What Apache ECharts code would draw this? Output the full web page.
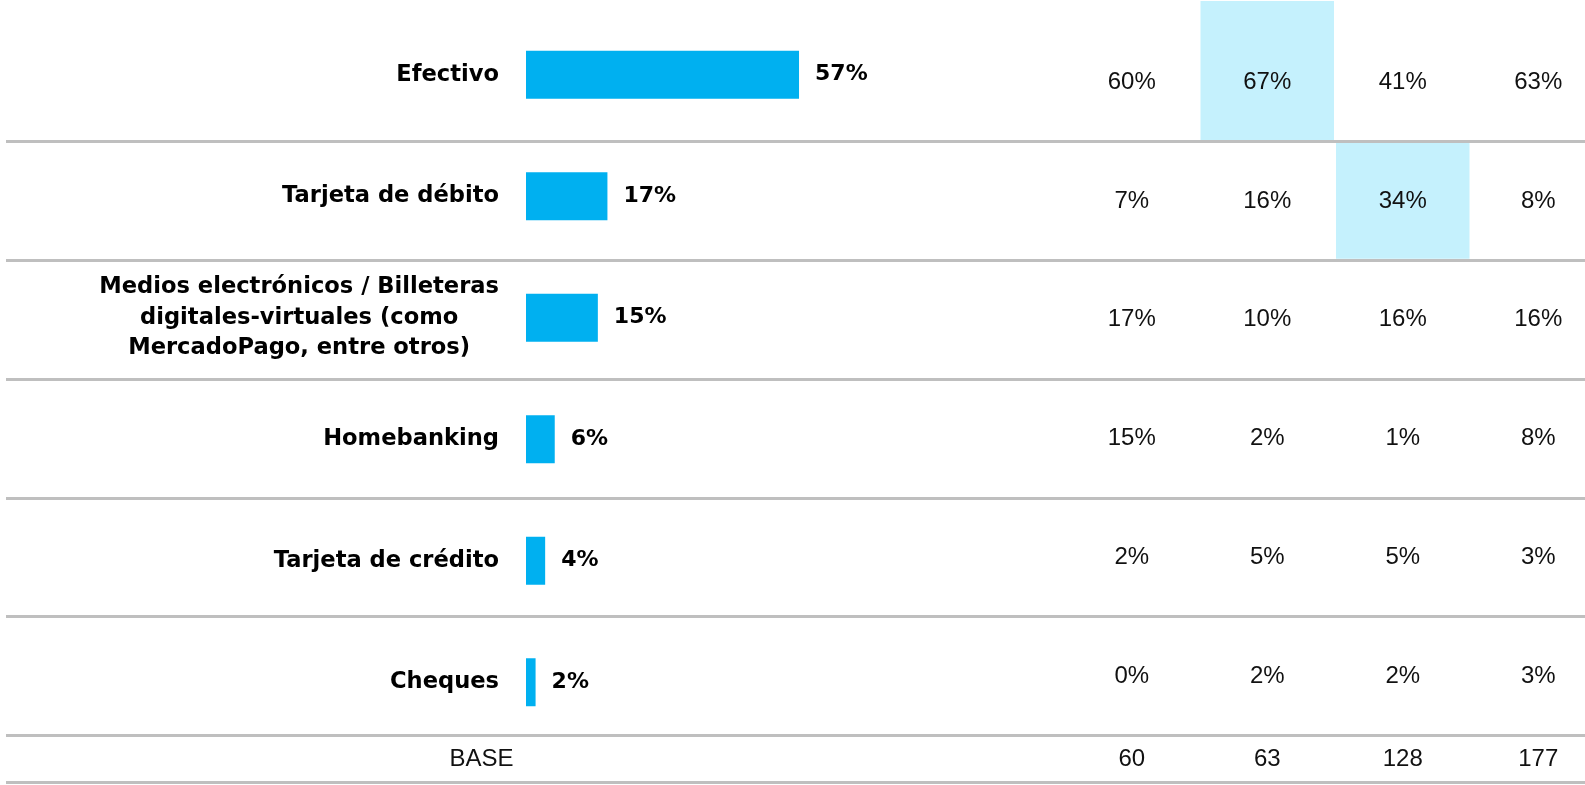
<!DOCTYPE html>
<html>
<head>
<meta charset="utf-8">
<script src="https://cdn.jsdelivr.net/npm/echarts@6/dist/echarts.min.js"></script>
<style>
  html, body { margin: 0; padding: 0; background: #ffffff; }
  #chart { width: 1585px; height: 785px; }
</style>
</head>
<body>
<div id="chart"></div>
<script>
// Payment methods and overall share (%)
const categories = [
  'Efectivo',
  'Tarjeta de débito',
  'Medios electrónicos / Billeteras\ndigitales-virtuales (como\nMercadoPago, entre otros)',
  'Homebanking',
  'Tarjeta de crédito',
  'Cheques'
];
const totalShare = [57, 17, 15, 6, 4, 2];

// Breakdown columns (%), one array per column
const column1 = [60, 7, 17, 15, 2, 0];
const column2 = [67, 16, 10, 2, 5, 2];
const column3 = [41, 34, 16, 1, 5, 2];
const column4 = [63, 8, 16, 8, 3, 3];

// Sample sizes per column
const baseLabel = 'BASE';
const baseCounts = [60, 63, 128, 177];

// Cells shaded as significantly higher: [column index, row index]
const highlightCells = [[1, 0], [2, 1]];

const LABEL_FONT = '"DejaVu Sans", sans-serif';
const TABLE_FONT = '"Liberation Sans", Arial, sans-serif';
const BAR_COLOR = '#00B0F0';
const SHADE_COLOR = '#C5F1FD';
const RULE_COLOR = '#BFBFBF';
const TEXT_COLOR = '#111111';

const columns = [column1, column2, column3, column4];
const tableCells = [];
columns.forEach((col, ci) => {
  col.forEach((v, ri) => {
    const hl = highlightCells.some(h => h[0] === ci && h[1] === ri) ? 1 : 0;
    tableCells.push([ci, ri, v, hl]);
  });
});
const baseCells = baseCounts.map((v, ci) => [ci, 0, v]);

// table geometry shared by the rule grid and the cell grid
const TABLE_TOP = 22.7;
const TABLE_H = 712.8;
const BASE_TOP = TABLE_TOP + TABLE_H;
const BASE_H = 47;
const TABLE_LEFT = 1064;
const COL_W = 135.5;
const TABLE_W = 1585 - TABLE_LEFT;
// column index range visible across the table grid (last column runs off the edge)
const COL_MIN = -0.5;
const COL_MAX = TABLE_W / COL_W - 0.5;

const chart = echarts.init(document.getElementById('chart'), null, { renderer: 'canvas' });

function cellRenderer(withPercent) {
  return function (params, api) {
    const col = api.value(0), row = api.value(1);
    const c = api.coord([col, row]);
    const s = api.size([1, 1]);
    const children = [];
    if (withPercent && api.value(3)) {
      // the top row's shading runs up to the page edge
      const top = row === 0 ? 1 : c[1] - s[1] / 2 + 1.5;
      const bottom = c[1] + s[1] / 2 - 1.5;
      children.push({
        type: 'rect',
        shape: { x: c[0] - s[0] / 2 + 1, y: top, width: s[0] - 2, height: bottom - top },
        style: { fill: SHADE_COLOR }
      });
    }
    children.push({
      type: 'text',
      x: c[0], y: c[1],
      style: {
        text: api.value(2) + (withPercent ? '%' : ''),
        fill: TEXT_COLOR,
        font: '24px ' + TABLE_FONT,
        align: 'center',
        verticalAlign: 'middle'
      }
    });
    return { type: 'group', children };
  };
}

const hiddenValueAxis = (gridIndex) => ({ type: 'value', gridIndex, show: false, min: 0, max: 1 });
const columnAxis = (gridIndex) => ({ type: 'value', gridIndex, show: false, min: COL_MIN, max: COL_MAX });

chart.setOption({
  animation: false,
  backgroundColor: '#ffffff',
  grid: [
    // bars
    { left: 526, width: 479, top: 14, height: 729 },
    // full-width row rules
    { left: 6, right: 0, top: TABLE_TOP, height: TABLE_H },
    // breakdown cells
    { left: TABLE_LEFT, width: TABLE_W, top: TABLE_TOP, height: TABLE_H },
    // base row rule
    { left: 6, right: 0, top: BASE_TOP, height: BASE_H },
    // base row cells
    { left: TABLE_LEFT, width: TABLE_W, top: BASE_TOP, height: BASE_H }
  ],
  xAxis: [
    { type: 'value', gridIndex: 0, min: 0, max: 100, show: false },
    hiddenValueAxis(1),
    columnAxis(2),
    hiddenValueAxis(3),
    columnAxis(4)
  ],
  yAxis: [
    {
      type: 'category', gridIndex: 0, data: categories, inverse: true,
      axisLine: { show: false }, axisTick: { show: false }, splitLine: { show: false },
      axisLabel: {
        interval: 0,
        margin: 27,
        formatter: v => v.split('\n').map(l => '{c|' + l + '}').join('\n'),
        rich: {
          c: {
            align: 'center',
            fontFamily: LABEL_FONT,
            fontWeight: 'bold',
            fontSize: 22.6,
            lineHeight: 30.5,
            color: '#000000'
          }
        }
      }
    },
    {
      type: 'category', gridIndex: 1, data: categories, inverse: true,
      axisLine: { show: false }, axisTick: { show: false }, axisLabel: { show: false },
      splitLine: { show: true, interval: 0, showMinLine: false, showMaxLine: true,
        lineStyle: { color: RULE_COLOR, width: 3 } }
    },
    { type: 'category', gridIndex: 2, data: categories, inverse: true, show: false },
    {
      type: 'category', gridIndex: 3, data: [baseLabel], inverse: true,
      axisLine: { show: false }, axisTick: { show: false }, axisLabel: { show: false },
      splitLine: { show: true, interval: 0, showMinLine: false, showMaxLine: true,
        lineStyle: { color: RULE_COLOR, width: 3 } }
    },
    {
      type: 'category', gridIndex: 4, data: [baseLabel], inverse: true,
      axisLine: { show: false }, axisTick: { show: false }, splitLine: { show: false },
      axisLabel: {
        align: 'center', margin: TABLE_LEFT - 481.5,
        fontFamily: TABLE_FONT, fontSize: 24, color: TEXT_COLOR
      }
    }
  ],
  series: [
    {
      type: 'bar', xAxisIndex: 0, yAxisIndex: 0,
      data: totalShare,
      barWidth: 48,
      itemStyle: { color: BAR_COLOR },
      label: {
        show: true, position: 'right', distance: 16,
        formatter: '{c}%',
        fontFamily: LABEL_FONT, fontWeight: 'bold', fontSize: 22, color: '#000000'
      }
    },
    {
      type: 'custom', xAxisIndex: 2, yAxisIndex: 2,
      data: tableCells,
      renderItem: cellRenderer(true)
    },
    {
      type: 'custom', xAxisIndex: 4, yAxisIndex: 4,
      data: baseCells,
      renderItem: cellRenderer(false)
    }
  ]
});
</script>
</body>
</html>
